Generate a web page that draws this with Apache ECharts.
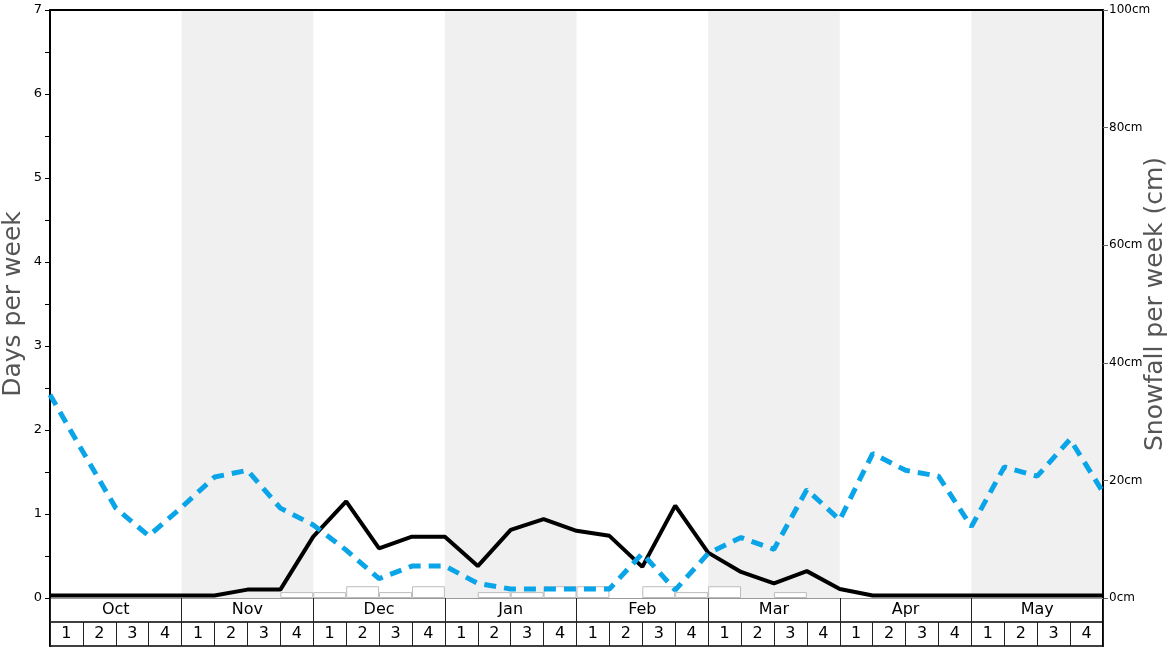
<!DOCTYPE html>
<html><head><meta charset="utf-8">
<script src="https://cdn.jsdelivr.net/npm/echarts@6/dist/echarts.min.js"></script>
<style>html,body{margin:0;padding:0;background:#fff}#c{width:1168px;height:648px}</style>
</head><body><div id="c"></div>
<script>
const months = ['Oct','Nov','Dec','Jan','Feb','Mar','Apr','May'];
const weekLabels = ['1','2','3','4','1','2','3','4','1','2','3','4','1','2','3','4','1','2','3','4','1','2','3','4','1','2','3','4','1','2','3','4'];
const snowfallCm = [0,0,0,0,0,0,0,1, 1,2,1,2, 0,1,1,2, 2,0,2,1, 2,0,1,0, 0,0,0,0, 0,0,0,0];
const blackLine = [0.03,0.03,0.03,0.03,0.03,0.03,0.1,0.1,0.73,1.15,0.59,0.73,0.73,0.38,0.81,0.94,0.8,0.74,0.37,1.1,0.54,0.31,0.175,0.32,0.107,0.03,0.03,0.03,0.03,0.03,0.03,0.03,0.03];
const blueLine = [2.42,1.74,1.07,0.74,1.08,1.44,1.52,1.07,0.87,0.57,0.23,0.38,0.38,0.175,0.107,0.107,0.107,0.107,0.53,0.095,0.53,0.72,0.58,1.29,0.93,1.72,1.52,1.45,0.85,1.56,1.45,1.89,1.26];

const FONT = 'DejaVu Sans';
const chart = echarts.init(document.getElementById('c'));
const hidden = {show:false};
chart.setOption({
  animation:false,
  textStyle:{fontFamily:FONT},
  grid:[
    {left:50,right:65,top:10,bottom:50,outerBoundsMode:'none',containLabel:false},
    {left:50,right:65,top:598,height:24,outerBoundsMode:'none',containLabel:false},
    {left:50,right:65,top:622,height:24,outerBoundsMode:'none',containLabel:false}
  ],
  xAxis:[
    {type:'category',gridIndex:0,data:weekLabels,boundaryGap:true,
     axisLine:{show:true,lineStyle:{color:'#999',width:1}},axisTick:hidden,axisLabel:hidden,splitLine:hidden},
    {type:'value',gridIndex:0,min:0,max:32,show:false},
    {type:'category',gridIndex:0,data:months,position:'top',boundaryGap:true,
     axisLine:{show:true,lineStyle:{color:'#000',width:2}},axisTick:hidden,axisLabel:hidden,
     splitArea:{show:true,interval:0,areaStyle:{color:['rgba(255,255,255,0)','#f0f0f0']}}},
    {type:'category',gridIndex:1,data:months,position:'bottom',boundaryGap:true,
     axisLine:{show:true,lineStyle:{color:'#000',width:1.5}},
     axisTick:{show:true,inside:true,length:24,interval:0,lineStyle:{color:'#222',width:1}},
     axisLabel:{interval:0,margin:-12,verticalAlign:'middle',fontSize:16,color:'#000',fontFamily:FONT}},
    {type:'category',gridIndex:2,data:weekLabels,position:'bottom',boundaryGap:true,
     axisLine:{show:true,lineStyle:{color:'#000',width:1.5}},
     axisTick:{show:true,inside:true,length:24,interval:0,lineStyle:{color:'#222',width:1}},
     axisLabel:{interval:0,margin:-12,verticalAlign:'middle',fontSize:16,color:'#000',fontFamily:FONT}}
  ],
  yAxis:[
    {type:'value',gridIndex:0,min:0,max:7,interval:0.5,position:'left',
     name:'Days per week',nameLocation:'middle',nameRotate:90,nameGap:24,nameMoveOverlap:false,
     nameTextStyle:{fontSize:25,color:'#555',fontFamily:FONT},
     axisLine:{show:true,lineStyle:{color:'#000',width:2}},
     axisTick:{show:true,length:5,lineStyle:{color:'#000'}},
     axisLabel:{fontSize:13,color:'#000',margin:8,formatter:v=> (Math.abs(v-Math.round(v))<1e-6 ? String(Math.round(v)) : '')},
     splitLine:hidden},
    {type:'value',gridIndex:0,min:0,max:100,interval:20,position:'right',
     name:'Snowfall per week (cm)',nameLocation:'middle',nameRotate:90,nameGap:40,nameMoveOverlap:false,
     nameTextStyle:{fontSize:25,color:'#555',fontFamily:FONT},
     axisLine:{show:true,lineStyle:{color:'#000',width:2}},
     axisTick:{show:true,length:5,lineStyle:{color:'#666'}},
     axisLabel:{fontSize:12,color:'#000',margin:6,formatter:v=>v+'cm'},
     splitLine:hidden},
    {type:'value',gridIndex:1,min:0,max:1,position:'left',axisLine:{show:true,lineStyle:{color:'#000',width:2}},axisTick:hidden,axisLabel:hidden,splitLine:hidden},
    {type:'value',gridIndex:1,min:0,max:1,position:'right',axisLine:{show:true,lineStyle:{color:'#000',width:2}},axisTick:hidden,axisLabel:hidden,splitLine:hidden},
    {type:'value',gridIndex:2,min:0,max:1,position:'left',axisLine:{show:true,lineStyle:{color:'#000',width:2}},axisTick:hidden,axisLabel:hidden,splitLine:hidden},
    {type:'value',gridIndex:2,min:0,max:1,position:'right',axisLine:{show:true,lineStyle:{color:'#000',width:2}},axisTick:hidden,axisLabel:hidden,splitLine:hidden}
  ],
  series:[
    {type:'bar',xAxisIndex:0,yAxisIndex:1,data:snowfallCm.map(v=>v>0?v:'-'),barCategoryGap:'0%',
     itemStyle:{color:'#fff',borderColor:'#bbb',borderWidth:1},z:2},
    {type:'line',xAxisIndex:1,yAxisIndex:0,data:blackLine.map((v,i)=>[i,v]),showSymbol:false,symbol:'none',
     lineStyle:{color:'#000',width:4},z:3},
    {type:'line',xAxisIndex:1,yAxisIndex:0,data:blueLine.map((v,i)=>[i,v]),showSymbol:false,symbol:'none',
     lineStyle:{color:'#0aa5e8',width:5,type:[12,8]},z:4}
  ]
});
</script></body></html>
